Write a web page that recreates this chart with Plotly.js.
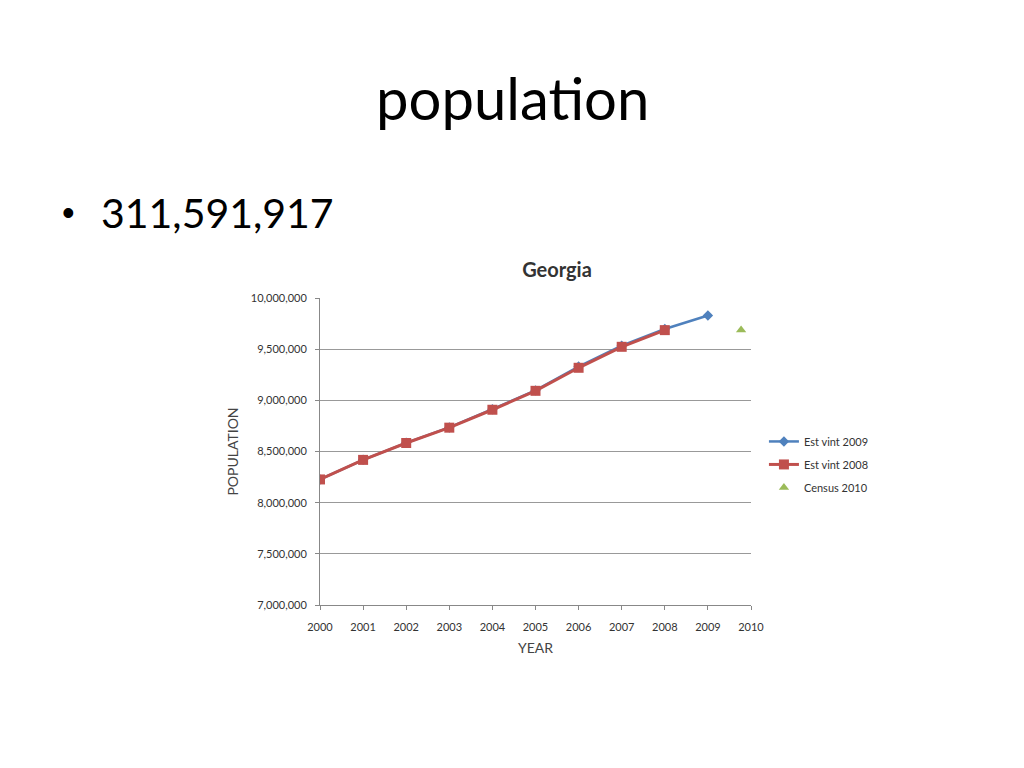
<!DOCTYPE html>
<html>
<head>
<meta charset="utf-8">
<script src="https://cdn.plot.ly/plotly-3.0.1.min.js"></script>
<style>
  html, body { margin: 0; padding: 0; background: #fff; }
  #chart { width: 1024px; height: 768px; }
</style>
</head>
<body>
<div id="chart"></div>
<script>
// Data
const slideTitle = "population";
const bulletText = "311,591,917";
const chartTitle = "Georgia";

const years2009 = [2000, 2001, 2002, 2003, 2004, 2005, 2006, 2007, 2008, 2009];
const estVint2009 = [8227000, 8419000, 8585000, 8735000, 8913000, 9097000, 9330000, 9534000, 9697000, 9829000];

const years2008 = [2000, 2001, 2002, 2003, 2004, 2005, 2006, 2007, 2008];
const estVint2008 = [8227000, 8418000, 8583000, 8733000, 8908000, 9093000, 9318000, 9523000, 9686000];

const censusYear = [2009.77];
const census2010 = [9688000];

const yTicks = [7000000, 7500000, 8000000, 8500000, 9000000, 9500000, 10000000];
const xTicks = [2000, 2001, 2002, 2003, 2004, 2005, 2006, 2007, 2008, 2009, 2010];

const font = "Lato, 'Open Sans', 'DejaVu Sans', sans-serif";

const traces = [
  {
    x: years2009, y: estVint2009, name: "Est vint 2009", type: "scatter", mode: "lines+markers",
    legendgroup: "a",
    line: { color: "#4F81BD", width: 2.5 },
    marker: { symbol: "diamond", size: 8, color: "#4F81BD" }
  },
  {
    x: years2008, y: estVint2008, name: "Est vint 2008", type: "scatter", mode: "lines+markers",
    legendgroup: "b",
    line: { color: "#C0504D", width: 3 },
    marker: { symbol: "square", size: 10, color: "#C0504D" }
  },
  {
    x: censusYear, y: census2010, name: "Census 2010", type: "scatter", mode: "markers",
    legendgroup: "c",
    marker: { symbol: "triangle-up", size: 9, color: "#9BBB59" }
  }
];

const layout = {
  width: 1024, height: 768,
  paper_bgcolor: "#ffffff", plot_bgcolor: "#ffffff",
  margin: { l: 320, r: 273, t: 298, b: 163, pad: 0 },
  font: { family: font, size: 11, color: "#333" },
  title: {
    text: "<b>" + chartTitle + "</b>",
    font: { family: font, size: 20, color: "#333" },
    x: 557 / 1024, xanchor: "center", xref: "container",
    y: 1 - 270 / 768, yanchor: "middle", yref: "container"
  },
  xaxis: {
    range: [2000, 2010], tickvals: xTicks, tickformat: "d",
    showgrid: false, zeroline: false,
    showline: true, linecolor: "#888", linewidth: 1,
    ticks: "outside", ticklen: 4, tickcolor: "#888",
    ticklabelstandoff: 8,
    tickfont: { family: font, size: 11, color: "#333" },
    title: { text: "YEAR", font: { family: font, size: 14, color: "#444" }, standoff: 10 }
  },
  yaxis: {
    range: [7000000, 10000000], tickvals: yTicks, tickformat: ",d",
    showgrid: true, gridcolor: "#999", gridwidth: 1, zeroline: false,
    showline: true, linecolor: "#888", linewidth: 1,
    ticks: "outside", ticklen: 4, tickcolor: "#888",
    ticklabelstandoff: 6,
    tickfont: { family: font, size: 11, color: "#333" },
    title: { text: "POPULATION", font: { family: font, size: 14, color: "#444" }, standoff: 8 }
  },
  showlegend: true,
  legend: {
    x: 1.03, xanchor: "left", y: 0.58, yanchor: "top",
    font: { family: font, size: 11, color: "#333" },
    bgcolor: "rgba(0,0,0,0)", tracegroupgap: 4, itemwidth: 30
  },
  annotations: [
    {
      text: slideTitle, xref: "paper", yref: "paper",
      x: (512 - 320) / 431, y: (605 - 98) / 307, xanchor: "center", yanchor: "middle",
      showarrow: false, font: { family: font, size: 58, color: "#000" }
    },
    {
      text: "\u2022", xref: "paper", yref: "paper",
      x: (60 - 320) / 431, y: (605 - 212) / 307, xanchor: "left", yanchor: "middle",
      showarrow: false, font: { family: "'Liberation Sans', Arial, sans-serif", size: 36, color: "#000" }
    },
    {
      text: bulletText, xref: "paper", yref: "paper",
      x: (99 - 320) / 431, y: (605 - 212) / 307, xanchor: "left", yanchor: "middle",
      showarrow: false, font: { family: font, size: 41, color: "#000" }
    }
  ]
};

Plotly.newPlot("chart", traces, layout, { displayModeBar: false, staticPlot: true });
</script>
</body>
</html>
